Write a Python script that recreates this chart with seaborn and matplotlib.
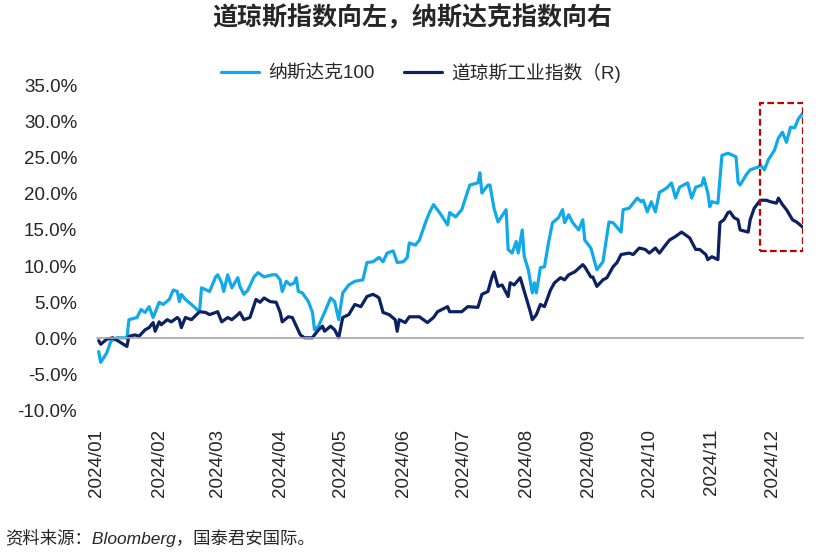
import seaborn as sns
import pandas as pd
import matplotlib.pyplot as plt
import matplotlib.dates as mdates
from matplotlib.patches import Rectangle
from matplotlib.ticker import FuncFormatter

title = "道琼斯指数向左，纳斯达克指数向右"
source = "资料来源：Bloomberg，国泰君安国际。"
ndx_label = "纳斯达克100"
dji_label = "道琼斯工业指数（R)"

# Nasdaq 100, year-to-date return (%)
ndx_dates = ["01-02", "01-03", "01-06", "01-08", "01-11", "01-15", "01-16", "01-17", "01-21", "01-23",
             "01-25", "01-27", "01-29", "02-01", "02-03", "02-06", "02-08", "02-10", "02-11", "02-12",
             "02-14", "02-17", "02-21", "02-22", "02-26", "02-29", "03-01", "03-03", "03-04", "03-06",
             "03-08", "03-11", "03-12", "03-14", "03-16", "03-19", "03-21", "03-24", "03-28", "03-30",
             "04-01", "04-02", "04-04", "04-06", "04-08", "04-09", "04-10", "04-12", "04-15", "04-17",
             "04-18", "04-20", "04-23", "04-26", "04-28", "04-30", "05-02", "05-05", "05-08", "05-12",
             "05-14", "05-17", "05-20", "05-22", "05-24", "05-27", "05-29", "06-01", "06-03", "06-04",
             "06-07", "06-09", "06-12", "06-14", "06-16", "06-19", "06-23", "06-24", "06-27", "06-30",
             "07-04", "07-08", "07-09", "07-10", "07-13", "07-14", "07-16", "07-18", "07-22", "07-23",
             "07-25", "07-27", "07-28", "07-30", "07-31", "08-02", "08-04", "08-05", "08-06", "08-08",
             "08-10", "08-12", "08-14", "08-17", "08-19", "08-20", "08-22", "08-24", "08-27", "08-29",
             "08-30", "09-02", "09-05", "09-08", "09-11", "09-13", "09-17", "09-18", "09-21", "09-23",
             "09-25", "09-27", "09-28", "09-30", "10-02", "10-04", "10-06", "10-08", "10-10", "10-12",
             "10-14", "10-16", "10-20", "10-22", "10-24", "10-27", "10-28", "10-30", "10-31", "11-01",
             "11-04", "11-06", "11-09", "11-13", "11-14", "11-15", "11-18", "11-20", "11-24", "11-25",
             "11-27", "11-29", "12-02", "12-04", "12-06", "12-08", "12-10", "12-12", "12-14", "12-16"]
ndx_values = [-1.8, -3.3, -2.0, -0.4, 0.1, 0.1, 0.0, 2.6, 2.9, 4.0,
              3.6, 4.4, 2.9, 5.0, 4.7, 5.4, 6.7, 6.5, 5.1, 6.1,
              5.4, 4.7, 3.7, 7.0, 6.5, 8.5, 8.8, 7.7, 6.5, 8.8,
              7.0, 8.4, 7.2, 6.1, 6.7, 8.5, 9.1, 8.5, 8.8, 8.8,
              8.1, 6.5, 7.9, 7.4, 7.7, 8.4, 6.5, 6.3, 5.1, 3.6,
              1.2, 1.7, 3.6, 5.6, 5.1, 2.6, 6.3, 7.4, 7.9, 8.1,
              10.5, 10.6, 11.2, 10.6, 11.8, 12.1, 10.5, 10.6, 11.2, 13.2,
              12.9, 13.6, 16.0, 17.4, 18.5, 17.4, 15.7, 17.4, 16.8, 17.8,
              21.2, 21.5, 22.9, 20.1, 21.2, 21.2, 18.0, 16.1, 17.8, 12.3,
              11.8, 13.4, 11.8, 15.0, 11.3, 9.5, 6.3, 7.7, 6.3, 9.8,
              9.9, 13.2, 16.0, 16.7, 17.8, 16.0, 17.1, 16.0, 15.0, 16.4,
              13.6, 12.5, 9.5, 10.6, 16.1, 16.0, 14.7, 17.8, 18.0, 18.7,
              19.4, 18.9, 19.1, 17.5, 18.9, 17.5, 20.2, 20.5, 20.9, 21.5,
              19.4, 20.9, 21.5, 19.4, 20.9, 21.2, 22.2, 20.1, 18.2, 18.9,
              18.7, 25.3, 25.6, 25.1, 21.6, 21.2, 22.6, 23.3, 23.7, 24.0,
              23.3, 24.7, 26.0, 27.7, 28.5, 27.1, 29.2, 29.1, 30.4, 31.1]

# Dow Jones Industrial Average, year-to-date return (%)
dji_dates = ["01-02", "01-03", "01-06", "01-09", "01-12", "01-16", "01-17", "01-20", "01-22", "01-25",
             "01-27", "01-29", "01-30", "02-01", "02-02", "02-05", "02-07", "02-10", "02-11", "02-12",
             "02-14", "02-17", "02-21", "02-24", "02-26", "03-01", "03-02", "03-03", "03-06", "03-08",
             "03-11", "03-12", "03-14", "03-17", "03-20", "03-22", "03-24", "03-27", "03-30", "04-01",
             "04-02", "04-05", "04-07", "04-09", "04-11", "04-13", "04-17", "04-18", "04-20", "04-22",
             "04-23", "04-26", "04-28", "04-30", "05-02", "05-05", "05-08", "05-11", "05-14", "05-17",
             "05-19", "05-20", "05-22", "05-25", "05-28", "05-29", "05-30", "06-02", "06-04", "06-09",
             "06-13", "06-16", "06-18", "06-23", "06-24", "06-30", "07-03", "07-08", "07-10", "07-13",
             "07-15", "07-16", "07-18", "07-20", "07-23", "07-24", "07-26", "07-29", "07-31", "08-03",
             "08-04", "08-06", "08-08", "08-10", "08-13", "08-15", "08-18", "08-20", "08-22", "08-25",
             "08-29", "08-30", "09-02", "09-03", "09-05", "09-08", "09-10", "09-13", "09-15", "09-17",
             "09-21", "09-23", "09-26", "09-29", "10-01", "10-04", "10-06", "10-09", "10-11", "10-14",
             "10-15", "10-17", "10-20", "10-21", "10-24", "10-26", "10-29", "10-30", "11-01", "11-04",
             "11-05", "11-07", "11-09", "11-10", "11-12", "11-14", "11-15", "11-19", "11-20", "11-22",
             "11-25", "11-28", "11-30", "12-03", "12-04", "12-06", "12-08", "12-11", "12-13", "12-16"]
dji_values = [-0.3, -0.8, -0.1, 0.1, -0.4, -1.1, 0.3, 0.5, 0.3, 1.2,
              1.5, 2.2, 1.0, 2.3, 1.9, 2.6, 2.3, 2.9, 2.6, 1.5,
              2.9, 2.6, 3.7, 3.6, 3.3, 3.7, 3.0, 2.3, 2.9, 2.6,
              3.3, 3.6, 2.6, 2.9, 5.4, 5.0, 5.6, 5.1, 5.0, 3.6,
              2.3, 3.0, 2.9, 1.7, 0.5, 0.1, 0.1, 0.5, 1.2, 1.7,
              1.0, 1.7, 1.2, 0.1, 2.9, 3.3, 4.7, 4.4, 5.8, 6.1,
              5.8, 5.6, 3.6, 3.3, 2.6, 1.0, 2.6, 2.2, 3.0, 3.0,
              2.2, 2.9, 3.7, 4.4, 3.7, 3.7, 4.4, 4.3, 6.1, 6.5,
              8.5, 9.2, 7.2, 7.4, 5.8, 7.7, 7.4, 8.4, 6.5, 3.7,
              2.6, 3.3, 4.7, 4.4, 6.7, 7.7, 8.4, 8.1, 8.8, 9.2,
              10.2, 9.9, 8.5, 8.5, 7.2, 8.1, 8.4, 9.9, 10.5, 11.6,
              11.8, 11.6, 12.5, 12.3, 11.8, 12.5, 11.8, 12.9, 13.6, 14.1,
              14.3, 14.7, 14.1, 13.9, 12.3, 12.3, 11.6, 10.9, 11.3, 10.9,
              16.0, 16.4, 17.4, 17.5, 16.7, 16.4, 15.0, 14.7, 16.4, 18.0,
              19.1, 19.1, 18.9, 18.7, 19.4, 18.5, 17.8, 16.4, 16.1, 15.4]

# highlighted window (red dashed box)
box_start, box_end = "2024-11-25", "2024-12-16"
box_low, box_high = 12.1, 32.5

df = pd.concat([
    pd.DataFrame({"date": pd.to_datetime(["2024-" + d for d in ndx_dates]), "value": ndx_values, "series": ndx_label}),
    pd.DataFrame({"date": pd.to_datetime(["2024-" + d for d in dji_dates]), "value": dji_values, "series": dji_label}),
])

sns.set_style("white")
plt.rcParams['font.family'] = ['Liberation Sans', 'Noto Sans CJK SC', 'DejaVu Sans']

fig = plt.figure(figsize=(8.19, 5.53), dpi=100)
ax = fig.add_axes([0.118, 0.257, 0.862, 0.589])

palette = {ndx_label: "#12A9E8", dji_label: "#0B2161"}
sns.lineplot(data=df, x="date", y="value", hue="series", palette=palette, linewidth=2.3, ax=ax, legend=False)

ax.set_ylim(-10, 35)
ax.set_xlim(pd.Timestamp("2024-01-01"), pd.Timestamp("2024-12-16"))
ax.set_yticks(range(-10, 36, 5))
ax.yaxis.set_major_formatter(FuncFormatter(lambda v, p: f"{v:.1f}%"))
ax.xaxis.set_major_locator(mdates.MonthLocator())
ax.xaxis.set_major_formatter(mdates.DateFormatter("%Y/%m"))

for s in ["top", "right", "left"]:
    ax.spines[s].set_visible(False)
ax.spines["bottom"].set_position(("data", 0))
ax.spines["bottom"].set_color("#A6A6A6")
ax.spines["bottom"].set_linewidth(1.2)
ax.tick_params(axis="x", direction="out", length=5, width=1, color="#595959",
               pad=60, labelsize=13.5, labelrotation=90)
ax.tick_params(axis="y", length=0, pad=14, labelsize=13.5)
ax.set_xlabel("")
ax.set_ylabel("")

ax.add_patch(Rectangle((mdates.date2num(pd.Timestamp(box_start)), box_low),
                       mdates.date2num(pd.Timestamp(box_end)) - mdates.date2num(pd.Timestamp(box_start)),
                       box_high - box_low, fill=False, edgecolor="#C00000", linestyle=(0, (3, 1.5)),
                       linewidth=1.6, zorder=5))

handles = [plt.Line2D([], [], color=palette[ndx_label], lw=2.3),
           plt.Line2D([], [], color=palette[dji_label], lw=2.3)]
fig.legend(handles, [ndx_label, dji_label], loc="center", bbox_to_anchor=(0.514, 0.868), ncol=2,
           frameon=False, fontsize=13.5, handlelength=2.0, columnspacing=1.6, handletextpad=0.5)

fig.text(0.503, 0.967, title, ha="center", va="center", fontsize=18, fontweight="bold",
         family=['Noto Sans CJK SC', 'DejaVu Sans'])
fig.text(0.006, 0.028, source, ha="left", va="center", fontsize=12.5, fontstyle="italic")

plt.savefig("out.png", dpi=100)
